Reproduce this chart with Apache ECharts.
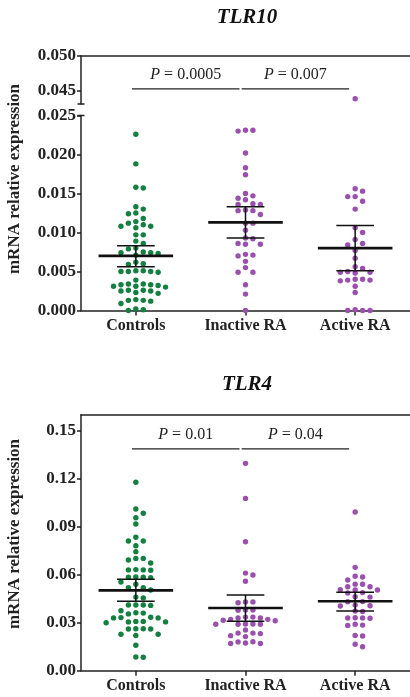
<!DOCTYPE html>
<html>
<head>
<meta charset="utf-8">
<script src="https://cdn.jsdelivr.net/npm/echarts@6/dist/echarts.min.js"></script>
<style>
  html, body { margin: 0; padding: 0; background: #ffffff; }
  #chart { width: 410px; height: 697px; }
</style>
</head>
<body>
<div id="chart"></div>
<script>
// ---- data -------------------------------------------------------------
const categories = ['Controls', 'Inactive RA', 'Active RA'];

// TLR10 relative expression per subject
const tlr10Controls = [0.0226, 0.0188, 0.0158, 0.0157, 0.0133, 0.0130, 0.0125, 0.0124, 0.0118, 0.0114,
  0.0112, 0.0110, 0.0108, 0.0108, 0.0106, 0.0097, 0.0097, 0.0089, 0.0086, 0.0080, 0.0079, 0.0075,
  0.0074, 0.0074, 0.0073, 0.0071, 0.0062, 0.0060, 0.0059, 0.0051, 0.0050, 0.0050, 0.0051, 0.0050,
  0.0049, 0.0039, 0.0034, 0.0033, 0.0032, 0.0031, 0.0031, 0.0030, 0.0033, 0.0034, 0.0025, 0.0026,
  0.0025, 0.0026, 0.0023, 0.0022, 0.0014, 0.0013, 0.0012, 0.0013, 0.0009, 0.0002, 0.0000, 0.0001];
const tlr10Inactive = [0.0231, 0.0230, 0.0231, 0.0202, 0.0183, 0.0174, 0.0150, 0.0147, 0.0144, 0.0142,
  0.0137, 0.0136, 0.0136, 0.0129, 0.0128, 0.0128, 0.0123, 0.0112, 0.0112, 0.0103, 0.0093, 0.0092,
  0.0086, 0.0085, 0.0085, 0.0071, 0.0072, 0.0070, 0.0063, 0.0055, 0.0049, 0.0049, 0.0033, 0.0021, 0.0000];
const tlr10Active = [0.0439, 0.0156, 0.0153, 0.0146, 0.0146, 0.0140, 0.0130, 0.0106, 0.0100, 0.0091,
  0.0086, 0.0084, 0.0077, 0.0067, 0.0056, 0.0054, 0.0049, 0.0050, 0.0049, 0.0048, 0.0040, 0.0039,
  0.0038, 0.0039, 0.0040, 0.0031, 0.0023, 0.0000, 0.0000, 0.0000, 0.0001];

// TLR10 group mean with error bar limits
const tlr10Mean = [0.0070, 0.0113, 0.0080];
const tlr10ErrLow = [0.0056, 0.0093, 0.0051];
const tlr10ErrHigh = [0.0083, 0.0133, 0.0109];

// TLR4 relative expression per subject
const tlr4Controls = [0.1178, 0.1011, 0.0984, 0.0956, 0.0917, 0.0834, 0.0811, 0.0811, 0.0781, 0.0744,
  0.0702, 0.0702, 0.0692, 0.0673, 0.0632, 0.0630, 0.0630, 0.0628, 0.0586, 0.0584, 0.0584, 0.0582,
  0.0554, 0.0540, 0.0519, 0.0519, 0.0504, 0.0460, 0.0455, 0.0411, 0.0411, 0.0408, 0.0411, 0.0375,
  0.0362, 0.0360, 0.0355, 0.0330, 0.0330, 0.0332, 0.0334, 0.0305, 0.0305, 0.0300, 0.0308, 0.0308,
  0.0261, 0.0262, 0.0262, 0.0261, 0.0220, 0.0228, 0.0228, 0.0159, 0.0084, 0.0086];
const tlr4Inactive = [0.1296, 0.1077, 0.0806, 0.0598, 0.0610, 0.0559, 0.0430, 0.0430, 0.0425, 0.0380,
  0.0380, 0.0378, 0.0335, 0.0330, 0.0330, 0.0335, 0.0312, 0.0315, 0.0321, 0.0321, 0.0292, 0.0292,
  0.0290, 0.0290, 0.0290, 0.0254, 0.0235, 0.0232, 0.0235, 0.0219, 0.0213, 0.0181, 0.0173, 0.0170,
  0.0170, 0.0180];
const tlr4Active = [0.0992, 0.0646, 0.0590, 0.0586, 0.0567, 0.0525, 0.0540, 0.0541, 0.0525, 0.0504,
  0.0504, 0.0506, 0.0486, 0.0488, 0.0462, 0.0460, 0.0431, 0.0432, 0.0404, 0.0406, 0.0410, 0.0373,
  0.0370, 0.0329, 0.0330, 0.0331, 0.0328, 0.0283, 0.0285, 0.0290, 0.0217, 0.0220, 0.0165, 0.0150];

const tlr4Mean = [0.0502, 0.0392, 0.0434];
const tlr4ErrLow = [0.0434, 0.0309, 0.0373];
const tlr4ErrHigh = [0.0571, 0.0473, 0.0490];

// axis ticks
const tlr10UpperTicks = [0.045, 0.050];
const tlr10LowerTicks = [0.000, 0.005, 0.010, 0.015, 0.020, 0.025];
const tlr4Ticks = [0.00, 0.03, 0.06, 0.09, 0.12, 0.15];

// pairwise comparisons: [from group, to group]
const comparisonPairs = [[0, 1], [1, 2]];
const tlr10PValues = ['0.0005', '0.007'];
const tlr4PValues = ['0.01', '0.04'];
const tlr10BracketLevel = 0.04529;
const tlr4BracketLevel = 0.1386;

// ---- styling / layout -------------------------------------------------
const FONT = 'Liberation Serif';
const INK = '#222222';
const GROUP_COLORS = ['#12803e', '#9b4fae', '#9b4fae'];
const DOT = 5.4;         // dot diameter, px
const COL_STEP = 7.5;    // horizontal spacing of swarm columns, px
const MIN_GAP = 5.8;     // minimum vertical distance of dots in a column, px
const MEAN_HALF = 0.34;  // half width of mean bar, in category units
const CAP_HALF = 0.172;  // half width of error caps, in category units

const PLOT_LEFT = 81, PLOT_WIDTH = 332;
const upperGrid = { left: PLOT_LEFT, width: PLOT_WIDTH, top: 56, height: 48 };
const lowerGrid = { left: PLOT_LEFT, width: PLOT_WIDTH, top: 115.5, height: 195 };
const tlr4Grid = { left: PLOT_LEFT, width: PLOT_WIDTH, top: 414.7, height: 256 };
const UPPER_MIN = 0.04314, UPPER_MAX = 0.050, LOWER_MAX = 0.025, TLR4_MAX = 0.16;
const catWidthPx = PLOT_WIDTH / categories.length;

// column swarm: each dot takes the nearest free column around the group centre
function swarmOffsets(values, pxPerUnit) {
  const order = values.map((v, i) => i).sort((a, b) => values[b] - values[a]);
  const used = {};
  const cols = new Array(values.length);
  order.forEach(i => {
    const py = values[i] * pxPerUnit;
    for (let n = 0; ; n++) {
      const k = n === 0 ? 0 : (n % 2 ? (n + 1) / 2 : -n / 2);
      const list = used[k] || (used[k] = []);
      if (list.every(q => Math.abs(q - py) >= MIN_GAP)) {
        list.push(py);
        cols[i] = k;
        break;
      }
    }
  });
  return cols.map(k => k * COL_STEP / catWidthPx);
}

function swarmPoints(groupIndex, values, pxPerUnit) {
  const offs = swarmOffsets(values, pxPerUnit);
  return values.map((v, i) => [groupIndex + 0.5 + offs[i], v]);
}

function scatterSeries(points, groupIndex, xAxisIndex, yAxisIndex) {
  return {
    type: 'scatter', xAxisIndex, yAxisIndex, data: points,
    symbolSize: DOT, silent: true, z: 2,
    itemStyle: { color: GROUP_COLORS[groupIndex], opacity: 1 }
  };
}

function meanSeries(xAxisIndex, yAxisIndex, mean, low, high) {
  return {
    type: 'custom', xAxisIndex, yAxisIndex, silent: true, z: 5,
    data: mean.map((m, i) => [i, m, low[i], high[i]]),
    renderItem(params, api) {
      const c = api.value(0) + 0.5;
      const m = api.coord([c, api.value(1)]);
      const lo = api.coord([c, api.value(2)]);
      const hi = api.coord([c, api.value(3)]);
      const mw = api.size([MEAN_HALF, 0])[0];
      const cw = api.size([CAP_HALF, 0])[0];
      const thin = { stroke: '#111', lineWidth: 1.5 };
      return {
        type: 'group', children: [
          { type: 'line', shape: { x1: lo[0], y1: lo[1], x2: hi[0], y2: hi[1] }, style: thin },
          { type: 'line', shape: { x1: hi[0] - cw, y1: hi[1], x2: hi[0] + cw, y2: hi[1] }, style: thin },
          { type: 'line', shape: { x1: lo[0] - cw, y1: lo[1], x2: lo[0] + cw, y2: lo[1] }, style: thin },
          { type: 'line', shape: { x1: m[0] - mw, y1: m[1], x2: m[0] + mw, y2: m[1] },
            style: { stroke: '#111', lineWidth: 2.6 } }
        ]
      };
    }
  };
}

function comparisonSeries(xAxisIndex, yAxisIndex, pValues, level) {
  return {
    type: 'custom', xAxisIndex, yAxisIndex, silent: true, z: 6,
    data: comparisonPairs.map(p => [p[0], p[1], level]),
    renderItem(params, api) {
      const a = api.coord([api.value(0) + 0.5 - 0.035, api.value(2)]);
      const b = api.coord([api.value(1) + 0.5 - 0.055, api.value(2)]);
      return {
        type: 'group', children: [
          { type: 'line', shape: { x1: a[0], y1: a[1], x2: b[0], y2: a[1] },
            style: { stroke: INK, lineWidth: 1.3 } },
          { type: 'text', x: (a[0] + b[0]) / 2, y: a[1] - 14,
            style: {
              text: '{i|P} = ' + pValues[params.dataIndex],
              fill: INK, fontFamily: FONT, fontSize: 16,
              align: 'center', verticalAlign: 'middle',
              rich: { i: { fontStyle: 'italic', fontFamily: FONT, fontSize: 16, fill: INK } }
            } }
        ]
      };
    }
  };
}

// ---- points -----------------------------------------------------------
const lowerPx = lowerGrid.height / LOWER_MAX;
const upperPx = upperGrid.height / (UPPER_MAX - UPPER_MIN);
const tlr4Px = tlr4Grid.height / TLR4_MAX;

const series = [];
[tlr10Controls, tlr10Inactive, tlr10Active].forEach((vals, g) => {
  const low = vals.filter(v => v <= LOWER_MAX);
  const high = vals.filter(v => v > LOWER_MAX);
  series.push(scatterSeries(swarmPoints(g, low, lowerPx), g, 2, 1));
  if (high.length) series.push(scatterSeries(swarmPoints(g, high, upperPx), g, 0, 0));
});
[tlr4Controls, tlr4Inactive, tlr4Active].forEach((vals, g) => {
  series.push(scatterSeries(swarmPoints(g, vals, tlr4Px), g, 4, 2));
});
series.push(meanSeries(2, 1, tlr10Mean, tlr10ErrLow, tlr10ErrHigh));
series.push(meanSeries(4, 2, tlr4Mean, tlr4ErrLow, tlr4ErrHigh));
series.push(comparisonSeries(0, 0, tlr10PValues, tlr10BracketLevel));
series.push(comparisonSeries(4, 2, tlr4PValues, tlr4BracketLevel));

// ---- axes -------------------------------------------------------------
const axisLine = { show: true, onZero: false, lineStyle: { color: INK, width: 1.5 } };
const tickLabel = { fontFamily: FONT, fontWeight: 'bold', fontSize: 17, color: INK };

function frameAxis(gridIndex) {
  return { gridIndex, type: 'value', min: 0, max: 3, position: 'top',
    axisLine, axisTick: { show: false }, axisLabel: { show: false }, splitLine: { show: false } };
}
function hiddenAxis(gridIndex) {
  return { gridIndex, type: 'value', min: 0, max: 3, show: false };
}
function categoryAxis(gridIndex) {
  return { gridIndex, type: 'category', data: categories, position: 'bottom',
    axisLine, axisTick: { show: true, alignWithLabel: true, length: 5, lineStyle: { color: INK, width: 1.5 } },
    axisLabel: Object.assign({ margin: 7, interval: 0 }, tickLabel, { fontSize: 16 }),
    splitLine: { show: false } };
}
function valueAxis(gridIndex, min, max, ticks, digits) {
  return { gridIndex, type: 'value', min, max, position: 'left',
    axisLine,
    axisTick: { show: true, length: 4, customValues: ticks, lineStyle: { color: INK, width: 1.5 } },
    axisLabel: Object.assign({ margin: 5, customValues: ticks, formatter: v => v.toFixed(digits) }, tickLabel),
    splitLine: { show: false } };
}

const option = {
  animation: false,
  backgroundColor: '#ffffff',
  grid: [upperGrid, lowerGrid, tlr4Grid],
  xAxis: [frameAxis(0), categoryAxis(1), hiddenAxis(1), categoryAxis(2), frameAxis(2)],
  yAxis: [
    valueAxis(0, UPPER_MIN, UPPER_MAX, tlr10UpperTicks, 3),
    valueAxis(1, 0, LOWER_MAX, tlr10LowerTicks, 3),
    valueAxis(2, 0, TLR4_MAX, tlr4Ticks, 2)
  ],
  series,
  graphic: [
    { type: 'text', x: PLOT_LEFT + PLOT_WIDTH / 2, y: 18,
      style: { text: 'TLR10', fill: '#111', fontFamily: FONT, fontSize: 21, fontWeight: 'bold',
        fontStyle: 'italic', align: 'center', verticalAlign: 'middle' } },
    { type: 'text', x: PLOT_LEFT + PLOT_WIDTH / 2, y: 385,
      style: { text: 'TLR4', fill: '#111', fontFamily: FONT, fontSize: 21, fontWeight: 'bold',
        fontStyle: 'italic', align: 'center', verticalAlign: 'middle' } },
    { type: 'text', x: 15, y: 179, rotation: Math.PI / 2,
      style: { text: 'mRNA relative expression', fill: INK, fontFamily: FONT, fontSize: 17,
        fontWeight: 'bold', align: 'center', verticalAlign: 'middle' } },
    { type: 'text', x: 15, y: 534, rotation: Math.PI / 2,
      style: { text: 'mRNA relative expression', fill: INK, fontFamily: FONT, fontSize: 17,
        fontWeight: 'bold', align: 'center', verticalAlign: 'middle' } },
    // end caps of the broken TLR10 axis
    { type: 'line', shape: { x1: PLOT_LEFT - 3.5, y1: upperGrid.top + upperGrid.height,
        x2: PLOT_LEFT + 3.5, y2: upperGrid.top + upperGrid.height },
      style: { stroke: INK, lineWidth: 1.5 } },
    { type: 'line', shape: { x1: PLOT_LEFT - 3.5, y1: lowerGrid.top, x2: PLOT_LEFT + 3.5, y2: lowerGrid.top },
      style: { stroke: INK, lineWidth: 1.5 } }
  ]
};

const chart = echarts.init(document.getElementById('chart'), null, { renderer: 'canvas' });
chart.setOption(option);
</script>
</body>
</html>
